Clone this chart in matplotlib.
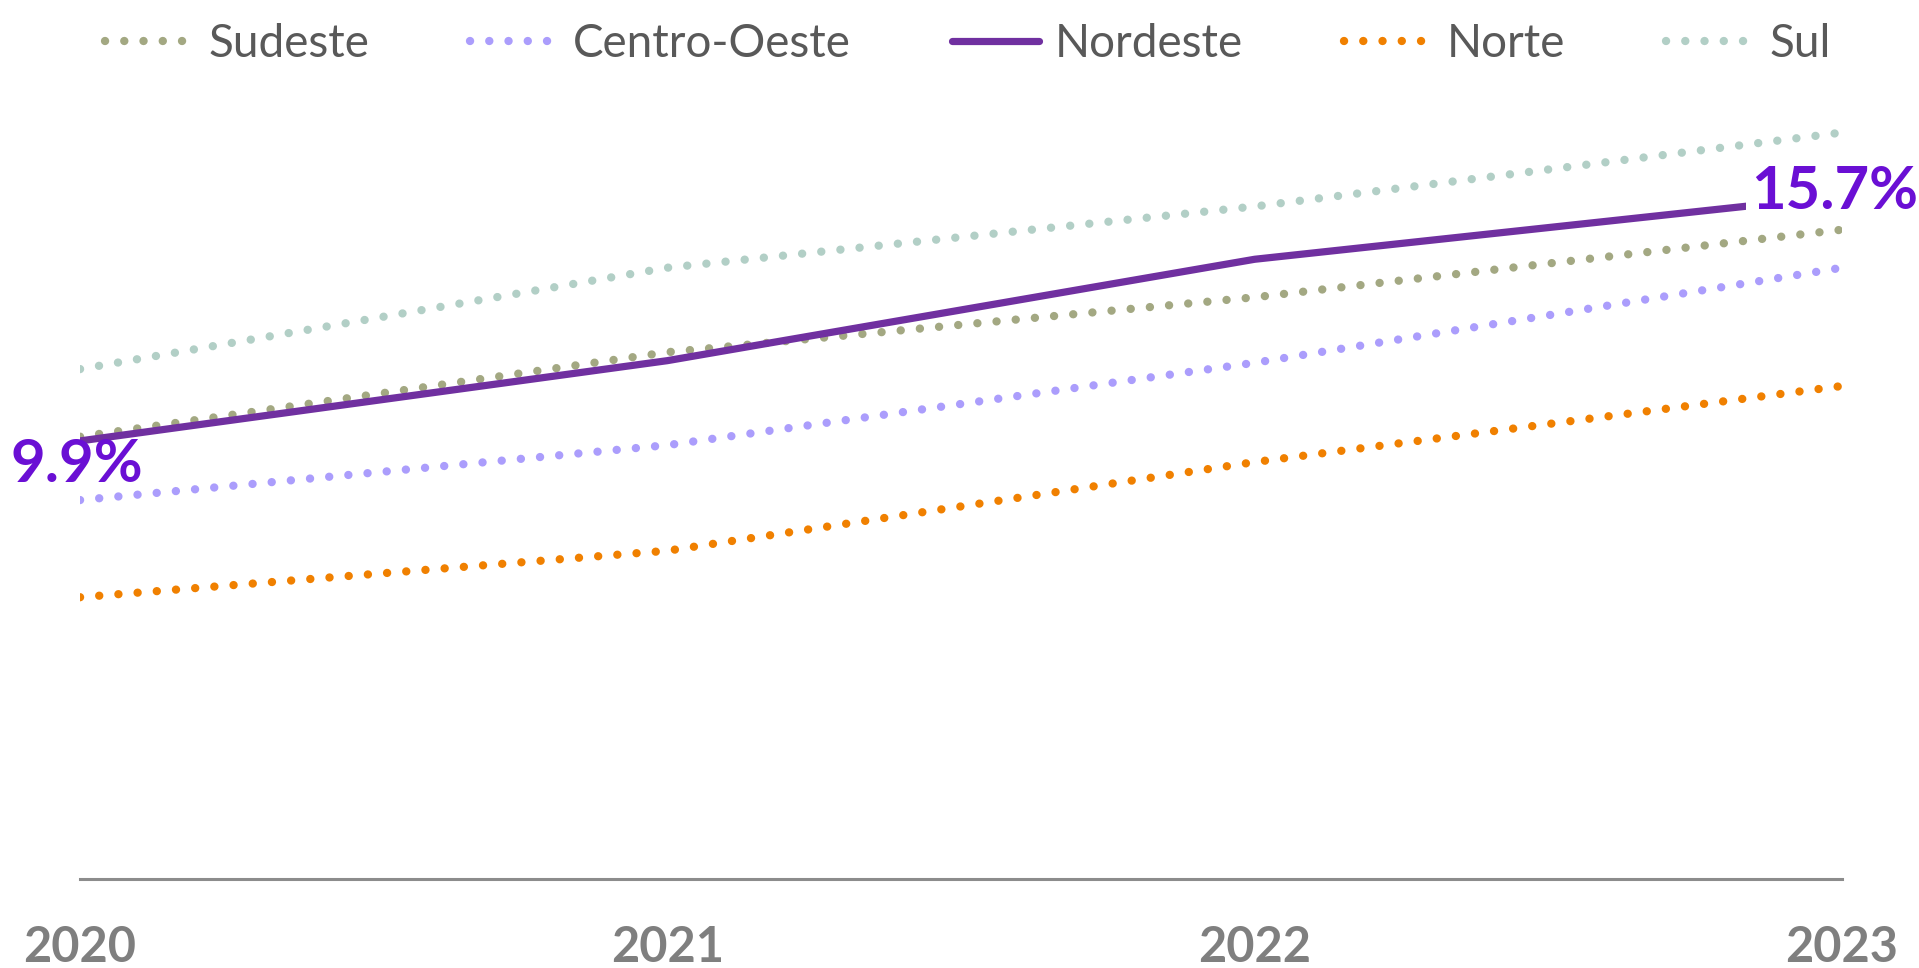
import matplotlib
matplotlib.use("Agg")
import matplotlib.pyplot as plt

years = [2020, 2021, 2022, 2023]
year_labels = ["2020", "2021", "2022", "2023"]
series_names = ["Sudeste", "Centro-Oeste", "Nordeste", "Norte", "Sul"]
sudeste = [10.0, 12.0, 13.3, 14.9]
centro_oeste = [8.5, 9.8, 11.75, 14.0]
nordeste = [9.9, 11.8, 14.2, 15.7]
norte = [6.2, 7.3, 9.4, 11.2]
sul = [11.6, 14.0, 15.45, 17.2]
label_start = "9.9%"
label_end = "15.7%"

colors = {
    "Sudeste": "#a3a882",
    "Centro-Oeste": "#ab9dfc",
    "Nordeste": "#7030a0",
    "Norte": "#f08000",
    "Sul": "#b2cfc6",
}
values = {
    "Sudeste": sudeste,
    "Centro-Oeste": centro_oeste,
    "Nordeste": nordeste,
    "Norte": norte,
    "Sul": sul,
}

plt.rcParams['font.family'] = ['Lato', 'DejaVu Sans']

DPI = 100
fig = plt.figure(figsize=(19.19, 9.68), dpi=DPI)
ax = fig.add_axes([80/1919, 1 - 879/968, (1842-80)/1919, (879-100)/968])

dot_lw = 6.0
for name in series_names:
    if name == "Nordeste":
        ax.plot(years, values[name], color=colors[name], lw=5.2,
                solid_capstyle='butt', zorder=3, label=name)
    else:
        ax.plot(years, values[name], color=colors[name], lw=dot_lw,
                linestyle=(0, (0.01, 2.3)), dash_capstyle='round',
                zorder=2, label=name)

ax.set_xlim(2020, 2023)
ax.set_ylim(-0.47, 17.97)
ax.set_yticks([])
ax.set_xticks(years)
ax.set_xticklabels(year_labels, fontsize=35, fontweight='bold', color='#7f7f7f')
ax.tick_params(axis='x', length=0, pad=33)
for s in ['top', 'left', 'right']:
    ax.spines[s].set_visible(False)
ax.spines['bottom'].set_color('#8c8c8c')
ax.spines['bottom'].set_linewidth(2.2)

lab_color = '#6a0fd4'
ax.annotate(label_start, (years[0], nordeste[0]), xytext=(-2, -17),
            textcoords='offset points', ha='center', va='center',
            fontsize=43, fontweight='bold', color=lab_color, zorder=5,
            annotation_clip=False)
ax.annotate(label_end, (years[-1], nordeste[-1]), xytext=(-5, 3),
            textcoords='offset points', ha='center', va='center',
            fontsize=43, fontweight='bold', color=lab_color, zorder=5,
            annotation_clip=False,
            bbox=dict(boxstyle='square,pad=0.1', fc='white', ec='none'))

fs_pt = 33
fs_px = fs_pt * DPI / 72
handles, labels = ax.get_legend_handles_labels()
leg = fig.legend(handles, labels, loc='center', bbox_to_anchor=(968/1919, 1 - 44/968),
                 ncol=5, frameon=False, fontsize=fs_pt,
                 handlelength=87/fs_px, columnspacing=101/fs_px,
                 handletextpad=16/fs_px, borderaxespad=0, borderpad=0)
for t in leg.get_texts():
    t.set_color('#595959')
for h in leg.get_lines():
    if h.get_label() == "Nordeste":
        h.set_solid_capstyle('round')

fig.savefig("out.png", dpi=DPI, facecolor='white')
